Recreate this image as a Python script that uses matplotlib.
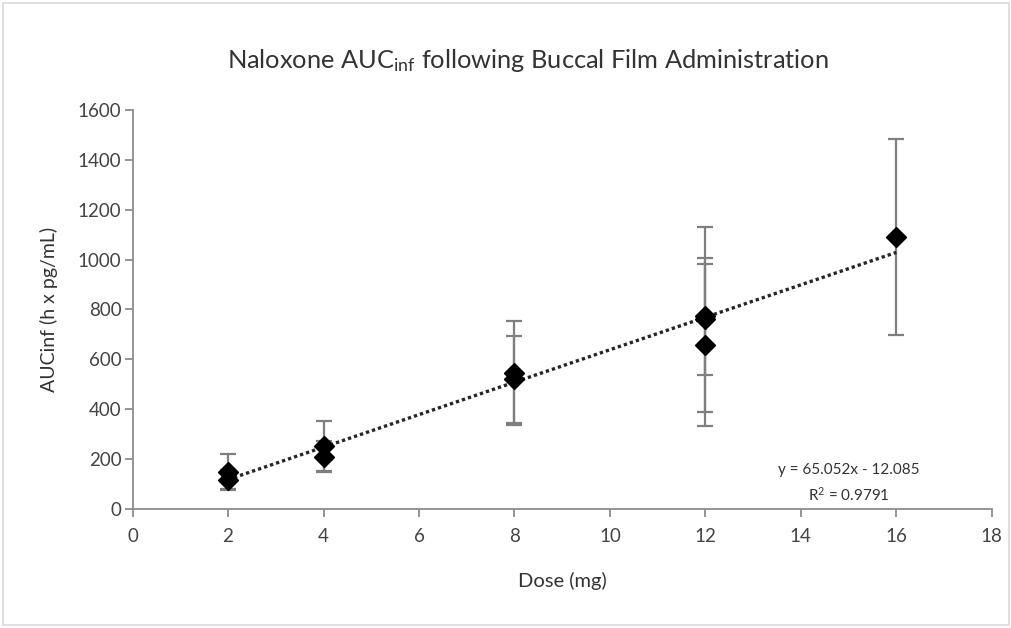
import numpy as np
import matplotlib
matplotlib.use("Agg")
import matplotlib.pyplot as plt
from matplotlib.patches import Rectangle

# AUCinf by dose, one entry per study arm
dose = [2, 2, 4, 4, 8, 8, 12, 12, 12, 16]
auc = [150, 118, 252, 210, 545, 520, 760, 772, 658, 1090]
auc_sd = [70, 40, 100, 62, 210, 175, 372, 236, 324, 392]

# linear trendline as reported on the chart
slope = 65.052
intercept = -12.085
r_squared = 0.9791

plt.rcParams['font.family'] = ['Lato', 'DejaVu Sans']
plt.rcParams['mathtext.fontset'] = 'custom'
plt.rcParams['mathtext.rm'] = 'Lato'
plt.rcParams['mathtext.it'] = 'Lato'

text_color = '#333333'
tick_color = '#444444'
axis_color = '#8c8c8c'

fig = plt.figure(figsize=(10.12, 6.28), dpi=100)
ax = fig.add_axes([0.131, 0.1895, 0.849, 0.6355])

# thin frame round the chart area
fig.patches.append(Rectangle((0.003, 0.005), 0.994, 0.99, transform=fig.transFigure,
                             fill=False, edgecolor='#d9d9d9', linewidth=1.2))

x_fit = np.array([min(dose), max(dose)])
ax.plot(x_fit, slope * x_fit + intercept, linestyle=(0, (1, 0.9)), color='#262626',
        linewidth=2.4, zorder=2)

ax.errorbar(dose, auc, yerr=auc_sd, fmt='none', ecolor='#7f7f7f', elinewidth=1.6,
            capsize=6, capthick=1.6, zorder=1)
ax.plot(dose, auc, linestyle='none', marker='D', markersize=10.5, color='black', zorder=3)

ax.set_xlim(0, 18)
ax.set_ylim(0, 1600)
ax.set_xticks(np.arange(0, 19, 2))
ax.set_yticks(np.arange(0, 1601, 200))

for side in ['top', 'right']:
    ax.spines[side].set_visible(False)
for side in ['left', 'bottom']:
    ax.spines[side].set_color(axis_color)
    ax.spines[side].set_linewidth(1.3)
ax.tick_params(axis='both', direction='out', length=6, width=1.3, color=axis_color,
               labelsize=13.5, labelcolor=tick_color)
ax.tick_params(axis='x', pad=8)
ax.tick_params(axis='y', pad=2)

fig.text(0.522, 0.904, 'Naloxone AUC$_{\\mathrm{inf}}$ following Buccal Film Administration',
         ha='center', va='center', fontsize=18.3, color=text_color)
ax.set_xlabel('Dose (mg)', fontsize=14.5, color=text_color, labelpad=19)
ax.set_ylabel('AUCinf (h x pg/mL)', fontsize=14, color=text_color, labelpad=14)

ax.text(0.834, 0.098, 'y = %.3fx - %.3f' % (slope, -intercept), transform=ax.transAxes,
        ha='center', va='center', fontsize=11, color=text_color)
ax.text(0.834, 0.036, 'R$^2$ = %.4f' % r_squared, transform=ax.transAxes,
        ha='center', va='center', fontsize=11, color=text_color)

fig.savefig('out.png', dpi=100, facecolor='white')
